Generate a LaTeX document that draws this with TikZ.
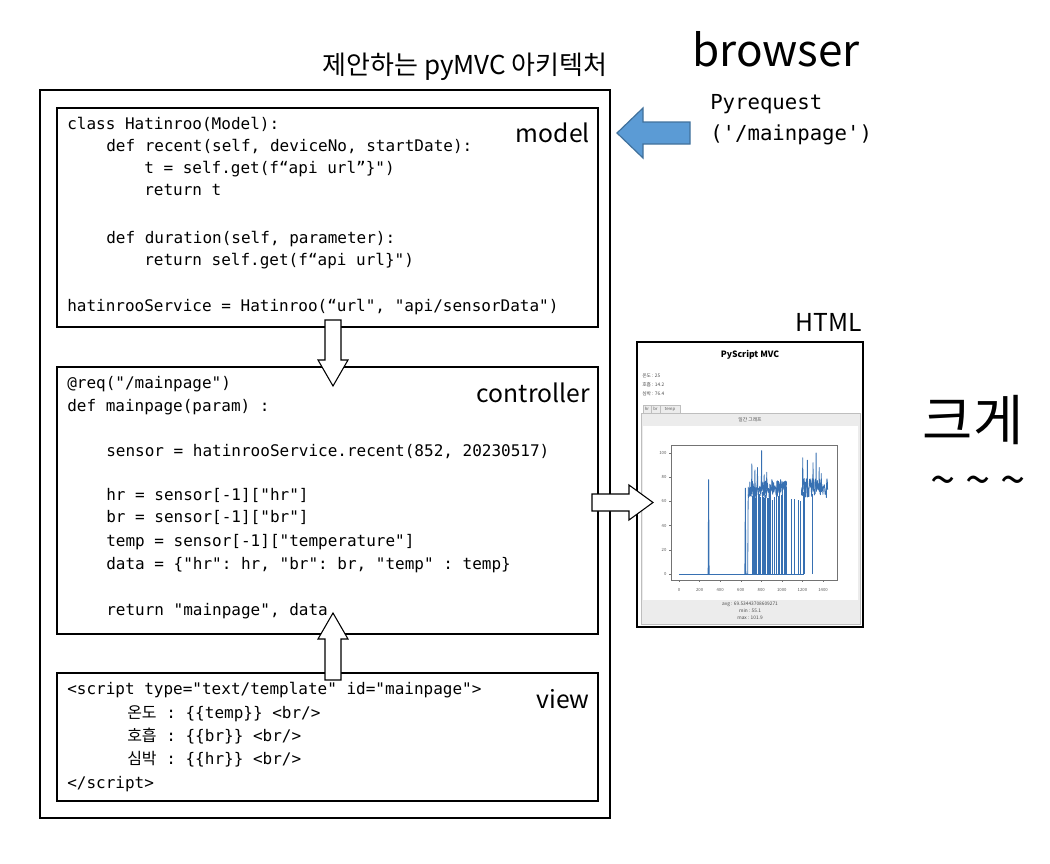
\documentclass[tikz,border=0pt]{standalone}
\usepackage{fontspec}
\setmainfont{Noto Sans CJK KR}
\setmonofont{DejaVu Sans Mono}
\newfontfamily\krfont{Noto Sans CJK KR}
\usetikzlibrary{fit}
\definecolor{arrowblue}{RGB}{91,155,213}
\definecolor{arrowedge}{RGB}{65,113,156}
\definecolor{plotblue}{RGB}{55,112,178}
\definecolor{panelgray}{RGB}{236,236,236}
\definecolor{panelline}{RGB}{190,190,190}
\begin{document}
\begin{tikzpicture}[x=0.75pt,y=-0.75pt,
  box/.style={draw, line width=1pt, inner sep=0pt},
  outerbox/.style={draw, line width=1.5pt, inner sep=0pt},
  code/.style={anchor=mid west, inner sep=0pt, font=\ttfamily\fontsize{12}{14}\selectfont},
  boxlabel/.style={anchor=base east, inner sep=0pt, font=\fontsize{18.5}{20}\selectfont},
  blockarrow/.style={draw, fill=white, line width=0.8pt, line join=miter},
  tinytext/.style={inner sep=0pt, font=\fontsize{3.6}{4}\selectfont, text=black!70},
  ticktext/.style={inner sep=0pt, font=\fontsize{3.2}{4}\selectfont, text=black!65},
  series/.style={plotblue, line width=0.6pt, line join=round}
]
\useasboundingbox (0,0) rectangle (1050,864);

% titles
\node[anchor=base, inner sep=0pt, font=\fontsize{19.5}{22}\selectfont] (title) at (465,74) {제안하는 pyMVC 아키텍처};
\node[anchor=base, inner sep=0pt, font=\fontsize{33}{38}\selectfont] (browser) at (776,66) {browser};

% outer and inner boxes
\node[outerbox, fit={(40,90) (610,818)}] (outer) {};
\node[box, fit={(57,108) (598,327)}] (model) {};
\node[box, fit={(57,367) (598,634)}] (controller) {};
\node[box, fit={(57,673) (598,801)}] (view) {};

\node[boxlabel] (modellbl) at (590,142) {model};
\node[boxlabel] (ctrllbl) at (590,402) {controller};
\node[boxlabel] (viewlbl) at (590,708) {view};

% model code
\node[code] (m1) at (67,126) {class Hatinroo(Model):};
\node[code] (m2) at (106,148) {def recent(self, deviceNo, startDate):};
\node[code] (m3) at (144,170) {t = self.get(f“api url”\}")};
\node[code] (m4) at (144,192) {return t};
\node[code] (m5) at (106,240) {def duration(self, parameter):};
\node[code] (m6) at (144,262) {return self.get(f“api url\}")};
\node[code] (m7) at (67,308) {hatinrooService = Hatinroo(“url", "api/sensorData")};

% controller code
\node[code] (c1) at (67,385) {@req("/mainpage")};
\node[code] (c2) at (67,408) {def mainpage(param) :};
\node[code] (c3) at (106,453) {sensor = hatinrooService.recent(852, 20230517)};
\node[code] (c4) at (106,497) {hr = sensor[-1]["hr"]};
\node[code] (c5) at (106,519) {br = sensor[-1]["br"]};
\node[code] (c6) at (106,543) {temp = sensor[-1]["temperature"]};
\node[code] (c7) at (106,566) {data = \{"hr": hr, "br": br, "temp" : temp\}};
\node[code] (c8) at (106,612) {return "mainpage", data};

% view code
\node[code] (v1) at (67,691) {<script type="text/template" id="mainpage">};
\node[code] (v2) at (127,715) {{\krfont 온도} : \{\{temp\}\} <br/>};
\node[code] (v3) at (127,738) {{\krfont 호흡} : \{\{br\}\} <br/>};
\node[code] (v4) at (127,761) {{\krfont 심박} : \{\{hr\}\} <br/>};
\node[code] (v5) at (67,785) {</script>};

% block arrows between boxes
\draw[blockarrow] (325,320) -- (341,320) -- (341,360) -- (348,360) -- (333,386) -- (318,360) -- (325,360) -- cycle;
\draw[blockarrow] (325,680) -- (341,680) -- (341,639) -- (348,639) -- (333,613) -- (318,639) -- (325,639) -- cycle;

% browser request
\draw[fill=arrowblue, draw=arrowedge, line width=0.9pt, line join=miter]
  (690,122) -- (643,122) -- (643,108) -- (617,133) -- (643,158) -- (643,144) -- (690,144) -- cycle;
\node[code, font=\ttfamily\fontsize{15.5}{18}\selectfont] (req1) at (710,106) {Pyrequest};
\node[code, font=\ttfamily\fontsize{15.5}{18}\selectfont] (req2) at (710,137) {('/mainpage')};

% HTML screenshot
\node[anchor=base east, inner sep=0pt, font=\fontsize{18.5}{20}\selectfont] (htmllbl) at (862,331) {HTML};
\node[draw, line width=1.1pt, fit={(637,342) (863,627)}, inner sep=0pt] (html) {};
\node[inner sep=0pt, font=\bfseries\fontsize{6.5}{8}\selectfont] (pstitle) at (750,355) {PyScript MVC};
\node[tinytext, anchor=west] (t1) at (642,376) {온도 : 25};
\node[tinytext, anchor=west] (t2) at (642,385) {호흡 : 14.2};
\node[tinytext, anchor=west] (t3) at (642,394) {심박 : 76.4};
\node[draw=panelline, line width=0.4pt, fill=panelgray, fit={(641,413) (860,624)}, inner sep=0pt] (panel) {};
\fill[white] (643,426) rectangle (858,600);
\node[draw=panelline, line width=0.4pt, fill=panelgray, fit={(643,405) (651,413)}, inner sep=0pt] (tabhr) {};
\node[draw=panelline, line width=0.4pt, fill=panelgray, fit={(651,405) (660,413)}, inner sep=0pt] (tabbr) {};
\node[draw=panelline, line width=0.4pt, fill=panelgray, fit={(660,405) (680,413)}, inner sep=0pt] (tabtemp) {};
\node[ticktext] at (tabhr.center) {hr};
\node[ticktext] at (tabbr.center) {br};
\node[ticktext] at (tabtemp.center) {temp};
\node[tinytext] (ptitle) at (750,420) {일간 그래프};
\node[tinytext] (avg) at (750,604) {avg : 69.53443708609271};
\node[tinytext] (min) at (750,611) {min : 55.1};
\node[tinytext] (max) at (750,618) {max : 101.9};
\node[draw=black!55, line width=0.4pt, fit={(671,445) (837,580)}, inner sep=0pt] (axes) {};

\begin{scope}[shift={(679,574)}, xscale=0.10286, yscale=-1.21]
  \foreach \v in {0,20,40,60,80,100} {
    \draw[black!55, line width=0.3pt] (-77.8,\v) -- (-97,\v);
    \node[ticktext, anchor=east] at (-120,\v) {\v};
  }
  \foreach \v in {0,200,400,600,800,1000,1200,1400} {
    \draw[black!55, line width=0.3pt] (\v,-4.96) -- (\v,-6.5);
    \node[ticktext] at (\v,-13) {\v};
  }
  \pgfmathsetseed{17}
  \draw[series] (0,0) -- (1215,0);
  \draw[series] (283,0) -- (288,78) -- (293,0);
  \draw[series] (640,0) -- (645,71) -- (650,0) -- (668,0) -- (673,72);
  \draw[series] plot[domain=673:1045, samples=120] (\x, {70+7*rand});
  \draw[series] plot[domain=1190:1445, samples=85] (\x, {71+8*rand});
  \foreach \p/\h in {705/91,735/86,760/88,800/102,825/82,850/84,900/78,955/77,985/78,1200/96,1245/94,1300/92,1330/100,1360/88,1380/83} {
    \draw[series] (\p,70) -- (\p+3,\h) -- (\p+6,68);
  }
  \foreach \d in {712,722,732,742,752,768,778,790,810,818,832,842,858,868,880,892,912,925,948,962,975,992,1005,1020,1032,1042} {
    \draw[series] (\d,0) -- (\d,{66+6*rand});
  }
  \foreach \d/\h in {1095/62,1125/62,1160/61,1185/60,1205/68,1215/64,1300/66} {
    \draw[series] (\d,0) -- (\d,\h);
  }
\end{scope}

% controller to HTML
\draw[blockarrow] (592,494) -- (629,494) -- (629,485) -- (653,502.5) -- (629,520) -- (629,511) -- (592,511) -- cycle;

% side notes
\node[inner sep=0pt, font=\fontsize{41}{44}\selectfont] (big) at (973,420) {크게};
\node[inner sep=0pt, font=\fontsize{34}{36}\selectfont] (tilde) at (978,486) {\string~ \string~ \string~};
\end{tikzpicture}
\end{document}
